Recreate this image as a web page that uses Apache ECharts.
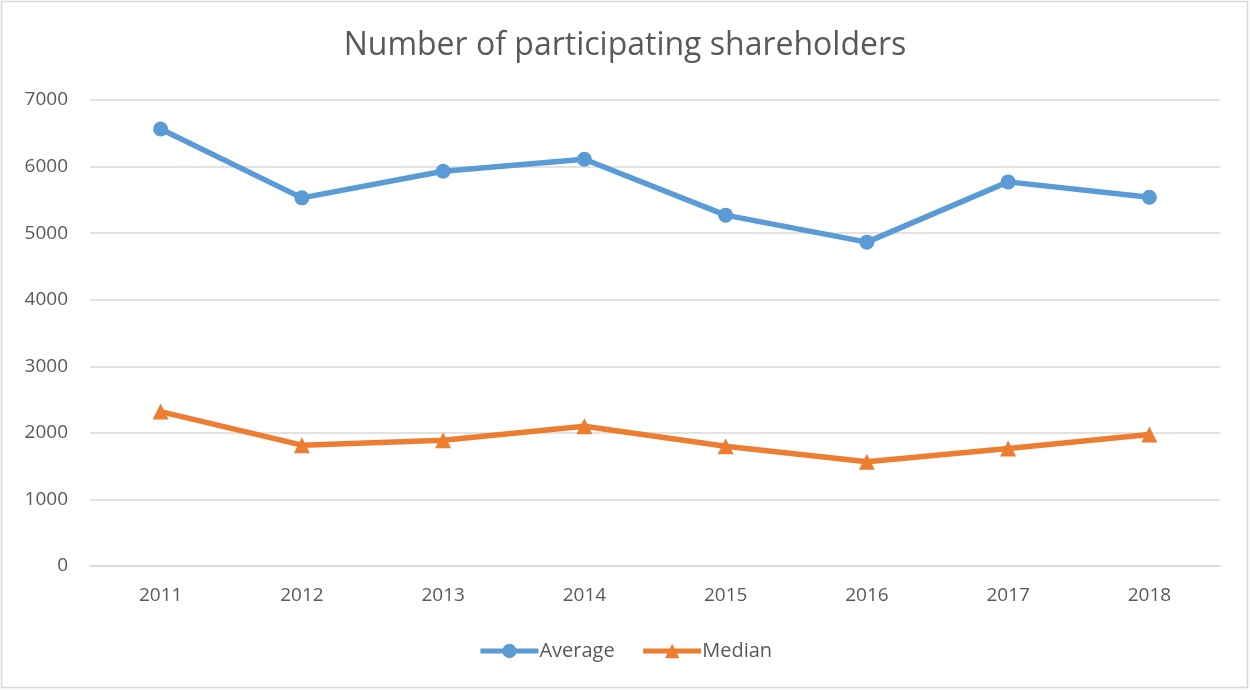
<!DOCTYPE html>
<html><head><meta charset="utf-8">
<script src="https://cdn.jsdelivr.net/npm/echarts@6/dist/echarts.min.js"></script>
<style>html,body{margin:0;padding:0;background:#fff}#c{width:1250px;height:690px}</style>
</head><body><div id="c"></div>
<script>
const categories = ['2011','2012','2013','2014','2015','2016','2017','2018'];
const average = [6565, 5530, 5930, 6110, 5270, 4865, 5770, 5540];
const median = [2320, 1815, 1890, 2100, 1800, 1565, 1765, 1975];
const yTicks = {min: 0, max: 7000, interval: 1000};

const chart = echarts.init(document.getElementById('c'));
const font = '"Open Sans", "Noto Sans", sans-serif';
chart.setOption({
  backgroundColor: '#fff',
  animation: false,
  graphic: [{type:'rect', shape:{x:1.5,y:1.5,width:1246,height:686}, style:{fill:'none', stroke:'#d9d9d9', lineWidth:1.5}}],
  title: {text: 'Number of participating shareholders', left: 'center', top: 25,
    textStyle: {fontFamily: font, fontSize: 32, fontWeight: 'normal', color: '#595959'}},
  legend: {bottom: 24, left: 'center', itemWidth: 58, itemHeight: 18, itemGap: 26,
    lineStyle: {width: 5},
    textStyle: {fontFamily: font, fontSize: 20, color: '#595959', padding:[0,0,0,-4]},
    data: ['Average', 'Median']},
  grid: {left: 90, right: 30, top: 100, bottom: 124, containLabel: false},
  xAxis: {type: 'category', data: categories, boundaryGap: true,
    axisLine: {lineStyle: {color: '#d9d9d9', width: 1.5}}, axisTick: {show: false},
    axisLabel: {fontFamily: font, fontSize: 19, color: '#595959', margin: 20}},
  yAxis: {type: 'value', min: yTicks.min, max: yTicks.max, interval: yTicks.interval,
    axisLine: {show: false}, axisTick: {show: false},
    splitLine: {lineStyle: {color: '#d9d9d9', width: 1.5}},
    axisLabel: {fontFamily: font, fontSize: 19, color: '#595959', margin: 22, formatter: v => String(v)}},
  series: [
    {name: 'Average', type: 'line', data: average, symbol: 'circle', symbolSize: 15,
      lineStyle: {color: '#5b9bd5', width: 5.5}, itemStyle: {color: '#5b9bd5'}},
    {name: 'Median', type: 'line', data: median, symbol: 'triangle', symbolSize: 16,
      lineStyle: {color: '#ed7d31', width: 5.5}, itemStyle: {color: '#ed7d31'}}
  ]
});
</script></body></html>
